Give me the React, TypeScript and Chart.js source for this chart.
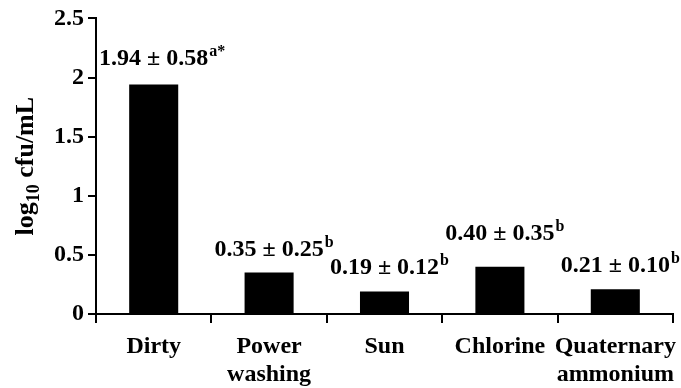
import React, { useEffect, useRef } from "react";
import { Chart, registerables } from "chart.js";

Chart.register(...registerables);

const categories: string[][] = [["Dirty"], ["Power", "washing"], ["Sun"], ["Chlorine"], ["Quaternary", "ammonium"]];
const means: number[] = [1.94, 0.35, 0.19, 0.4, 0.21];
const sds: number[] = [0.58, 0.25, 0.12, 0.35, 0.1];
const letters: string[] = ["a*", "b", "b", "b", "b"];
const yMin = 0;
const yMax = 2.5;
const yStep = 0.5;

const FONT = '"Liberation Serif", "Times New Roman", serif';
const labelLift = [20, 17, 18, 27, 17];

const labelPlugin = {
  id: "barLabels",
  afterDatasetsDraw(chart: any) {
    const ctx = chart.ctx;
    const meta = chart.getDatasetMeta(0);
    ctx.save();
    ctx.fillStyle = "#000";
    ctx.textBaseline = "alphabetic";
    ctx.textAlign = "left";
    meta.data.forEach((bar: any, i: number) => {
      const main = `${means[i].toFixed(2)} \u00b1 ${sds[i].toFixed(2)}`;
      ctx.font = `bold 24px ${FONT}`;
      const w = ctx.measureText(main).width;
      const x0 = bar.x - w / 2;
      const yb = bar.y - labelLift[i];
      ctx.fillText(main, x0, yb);
      ctx.font = `bold 16px ${FONT}`;
      ctx.fillText(letters[i], x0 + w + 1, yb - 9);
    });
    // y-axis title with subscript
    const area = chart.chartArea;
    const cy = (area.top + area.bottom) / 2;
    const cx = 33;
    ctx.translate(cx, cy);
    ctx.rotate(-Math.PI / 2);
    ctx.font = `bold 26px ${FONT}`;
    const p1 = "log";
    const p3 = " cfu/mL";
    const w1 = ctx.measureText(p1).width;
    const w3 = ctx.measureText(p3).width;
    ctx.font = `bold 18px ${FONT}`;
    const w2 = ctx.measureText("10").width;
    const total = w1 + w2 + w3;
    let x = -total / 2;
    ctx.font = `bold 26px ${FONT}`;
    ctx.fillText(p1, x, 0);
    x += w1;
    ctx.font = `bold 18px ${FONT}`;
    ctx.fillText("10", x, 6);
    x += w2;
    ctx.font = `bold 26px ${FONT}`;
    ctx.fillText(p3, x, 0);
    ctx.restore();
  },
};

export default function App() {
  const ref = useRef<HTMLCanvasElement | null>(null);
  useEffect(() => {
    if (!ref.current) return;
    const chart = new Chart(ref.current, {
      type: "bar",
      data: {
        labels: categories,
        datasets: [
          {
            data: means,
            backgroundColor: "#000",
            borderWidth: 0,
            categoryPercentage: 1,
            barPercentage: 0.425,
          },
        ],
      },
      options: {
        animation: false,
        responsive: false,
        devicePixelRatio: 1,
        layout: { padding: { top: 17.5, right: 8, left: 0, bottom: 0 } },
        plugins: { legend: { display: false }, tooltip: { enabled: false } },
        scales: {
          x: {
            grid: {
              offset: true,
              drawOnChartArea: false,
              drawTicks: true,
              tickLength: 9,
              color: "#000",
              lineWidth: 2,
            },
            border: { color: "#000", width: 2 },
            ticks: {
              color: "#000",
              font: { family: FONT, size: 24, weight: "bold", lineHeight: 1.2 },
              padding: 9,
              maxRotation: 0,
              autoSkip: false,
            },
            afterFit: (s: any) => {
              s.height = 74;
              s.paddingLeft = 0;
              s.paddingRight = 0;
            },
          },
          y: {
            min: yMin,
            max: yMax,
            grid: {
              drawOnChartArea: false,
              drawTicks: true,
              tickLength: 8,
              color: "#000",
              lineWidth: 2,
            },
            border: { color: "#000", width: 2 },
            ticks: {
              stepSize: yStep,
              color: "#000",
              font: { family: FONT, size: 24, weight: "bold" },
              padding: 4,
              callback: (v: any) => String(Number(v)),
            },
            afterFit: (s: any) => {
              s.width = 96;
            },
          },
        },
      },
      plugins: [labelPlugin],
    });
    return () => chart.destroy();
  }, []);
  return (
    <div style={{ position: "absolute", left: 0, top: 0, width: 681, height: 388, background: "#fff" }}>
      <canvas ref={ref} width={681} height={388} />
    </div>
  );
}
